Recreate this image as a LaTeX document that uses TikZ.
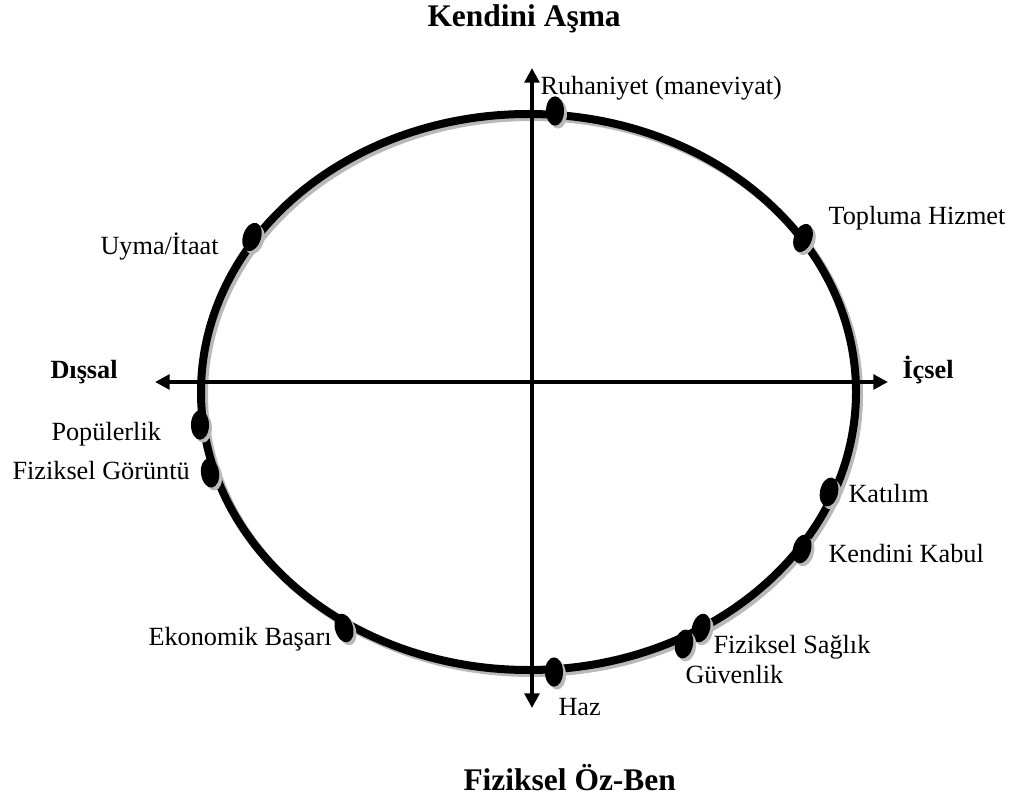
\documentclass[tikz,border=0pt]{standalone}
\usepackage{fontspec}
\setmainfont{Liberation Serif}
\usetikzlibrary{arrows.meta,shapes.geometric,shadows}

\tikzset{every picture/.style={line width=0.75pt}}
\tikzset{
  lbl/.style={anchor=base west,inner sep=0pt,font=\fontsize{19.7}{23}\selectfont},
  axlbl/.style={lbl,font=\fontsize{19.7}{23}\selectfont\bfseries},
  ttl/.style={anchor=base west,inner sep=0pt,font=\fontsize{23.6}{28}\selectfont\bfseries},
  axis/.style={line width=3pt,{Triangle[length=11pt,width=11pt]}-{Triangle[length=11pt,width=11pt]}},
  ring/.style={line width=6pt},
  ringshadow/.style={line width=6pt,draw={rgb, 255:red, 185; green, 185; blue, 185 }},
  dotmark/.style={ellipse,fill=black,inner sep=0pt,minimum width=13.5pt,minimum height=22pt,
    drop shadow={opacity=1,fill={rgb, 255:red, 185; green, 185; blue, 185 },shadow xshift=2.2pt,shadow yshift=-2.2pt}}
}

\begin{document}
\begin{tikzpicture}[x=0.75pt,y=0.75pt,yscale=-1,xscale=1]
\path[use as bounding box] (0,0) rectangle (1016,798);

%Ellipse
\draw [ringshadow] (531.5,395) ellipse (327.5 and 278);
\draw [ring] (528.5,392) ellipse (327.5 and 278);

%Axes
\coordinate (dis) at (155,382);
\coordinate (ic) at (888,382);
\coordinate (up) at (532,68);
\coordinate (down) at (532,708);
\draw [axis] (dis) -- (ic);
\draw [axis] (down) -- (up);

%Dots
\node [dotmark] (druh) at (555,111) {};
\node [dotmark,rotate=-20] (dtop) at (803,238) {};
\node [dotmark,rotate=-18] (duym) at (252,237) {};
\node [dotmark] (dpop) at (200,425) {};
\node [dotmark,rotate=8] (dfiz) at (210,473) {};
\node [dotmark,rotate=-12] (dkat) at (829,492) {};
\node [dotmark,rotate=-15] (dkab) at (802,549) {};
\node [dotmark,rotate=15] (deko) at (344,628) {};
\node [dotmark,rotate=-15] (dsag) at (701,628) {};
\node [dotmark,rotate=-10] (dguv) at (684,644) {};
\node [dotmark] (dhaz) at (554,672) {};

% Text Node
\draw (427,27) node (kendini) [ttl] {Kendini Aşma};
% Text Node
\draw (463,790) node (ozben) [ttl] {Fiziksel Öz-Ben};
% Text Node
\draw (50,378) node (disl) [axlbl] {Dışsal};
% Text Node
\draw (902,378) node (icl) [axlbl] {İçsel};
% Text Node
\draw (540,95) node (ruh) [lbl] {Ruhaniyet (maneviyat)};
% Text Node
\draw (828,225) node (top) [lbl] {Topluma Hizmet};
% Text Node
\draw (100,255) node (uym) [lbl] {Uyma/İtaat};
% Text Node
\draw (51,440) node (pop) [lbl] {Popülerlik};
% Text Node
\draw (12,479) node (fiz) [lbl] {Fiziksel Görüntü};
% Text Node
\draw (848,502) node (kat) [lbl] {Katılım};
% Text Node
\draw (828,562) node (kab) [lbl] {Kendini Kabul};
% Text Node
\draw (148,645) node (eko) [lbl] {Ekonomik Başarı};
% Text Node
\draw (713,653) node (sag) [lbl] {Fiziksel Sağlık};
% Text Node
\draw (685,683) node (guv) [lbl] {Güvenlik};
% Text Node
\draw (558,715) node (haz) [lbl] {Haz};

\end{tikzpicture}
\end{document}
